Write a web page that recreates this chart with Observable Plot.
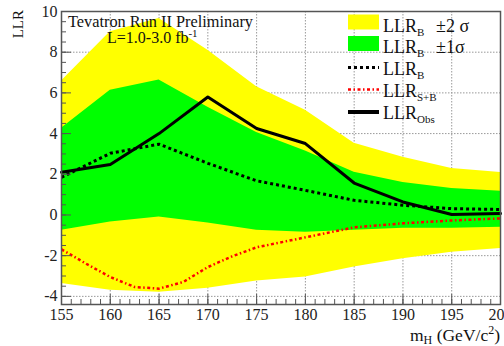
<!DOCTYPE html>
<html><head><meta charset="utf-8">
<script src="https://cdn.jsdelivr.net/npm/d3@7"></script>
<script src="https://cdn.jsdelivr.net/npm/@observablehq/plot@0.6"></script>
<style>
body{margin:0;background:#fff;}
#chart svg{display:block;}
#chart svg text{font-family:"Liberation Serif","Times New Roman",serif !important;}
</style></head><body><div id="chart"></div>
<script>
// ---- data ----
const mass     = [155, 160, 165, 170, 175, 180, 185, 190, 195, 200];
const llrObs   = [2.10, 2.48, 4.00, 5.80, 4.25, 3.51, 1.57, 0.64, 0.02, 0.07];
const llrB     = [1.85, 3.03, 3.48, 2.54, 1.68, 1.21, 0.72, 0.48, 0.31, 0.27];
const bPlus1   = [4.26, 6.13, 6.63, 5.30, 4.05, 3.15, 2.10, 1.60, 1.30, 1.17];
const bMinus1  = [-0.75, -0.35, -0.10, -0.40, -0.75, -0.85, -0.75, -0.65, -0.65, -0.60];
const bPlus2   = [6.58, 9.00, 9.66, 8.10, 6.30, 5.15, 3.52, 2.84, 2.29, 2.09];
const bMinus2  = [-3.37, -3.70, -3.80, -3.60, -3.25, -3.05, -2.56, -2.15, -1.83, -1.65];
const massSB   = [155, 157.5, 160, 162.5, 165, 167.5, 170, 172.5, 175, 180, 185, 190, 195, 200];
const llrSB    = [-1.69, -2.39, -3.05, -3.54, -3.62, -3.29, -2.56, -2.03, -1.59, -1.10, -0.61, -0.41, -0.27, -0.17];

const xTicks = [155, 160, 165, 170, 175, 180, 185, 190, 195, 200];
const xMinor = d3.range(155, 200.5, 1);
const yTicks = [-4, -2, 0, 2, 4, 6, 8, 10];
const yMinor = d3.range(-4, 10.01, 0.5);
const xGrid  = [160, 165, 170, 175, 180, 185, 190, 195];
const yGrid  = [-4, -2, 0, 2, 4, 6, 8];

const legendRows = [
  {label: "LLR", sub: "B", extra: "±2 σ", kind: "yellow"},
  {label: "LLR", sub: "B", extra: "±1σ", kind: "green"},
  {label: "LLR", sub: "B", extra: "", kind: "dotB"},
  {label: "LLR", sub: "S+B", extra: "", kind: "dotSB"},
  {label: "LLR", sub: "Obs", extra: "", kind: "solid"}
];

// ---- tables built from arrays ----
const bands = mass.map((m, i) => ({m, lo2: bMinus2[i], hi2: bPlus2[i], lo1: bMinus1[i], hi1: bPlus1[i], b: llrB[i], obs: llrObs[i]}));
const sb = massSB.map((m, i) => ({m, v: llrSB[i]}));

const W = 504, H = 346, mL = 61, mR = 4, mT = 11, mB = 42;
const innerW = W - mL - mR, innerH = H - mT - mB;
const axisColor = "#555";
const FONT = "'Liberation Serif', 'Times New Roman', serif";
const dotB = "3,3", dotSB = "3,2.5,1.5,2.5";

const plot = Plot.plot({
  width: W, height: H,
  marginLeft: mL, marginRight: mR, marginTop: mT, marginBottom: mB,
  style: {fontFamily: FONT, background: "white"},
  x: {domain: [155, 200]},
  y: {domain: [-4.4, 10]},
  marks: [
    Plot.ruleX(xGrid, {x: d => d, stroke: "#999", strokeDasharray: "1.5,1.5"}),
    Plot.ruleY(yGrid, {y: d => d, stroke: "#999", strokeDasharray: "1.5,1.5"}),
    Plot.areaY(bands, {x: "m", y1: "lo2", y2: "hi2", fill: "#ffff00"}),
    Plot.areaY(bands, {x: "m", y1: "lo1", y2: "hi1", fill: "#00ff00"}),
    Plot.line(bands, {x: "m", y: "b", stroke: "black", strokeWidth: 3, strokeDasharray: dotB, strokeLinecap: "butt"}),
    Plot.line(sb, {x: "m", y: "v", stroke: "#ff0000", strokeWidth: 2.5, strokeDasharray: dotSB, strokeLinecap: "butt"}),
    Plot.line(bands, {x: "m", y: "obs", stroke: "black", strokeWidth: 3}),
    Plot.tickX(xMinor, {x: d => d, stroke: axisColor, insetTop: innerH - 5}),
    Plot.tickX(xTicks, {x: d => d, stroke: axisColor, insetTop: innerH - 10}),
    Plot.tickY(yMinor, {y: d => d, stroke: axisColor, insetRight: innerW - 5}),
    Plot.tickY(yTicks, {y: d => d, stroke: axisColor, insetRight: innerW - 10}),
    Plot.axisX(xTicks, {tickSize: 0, tickPadding: 4, fontSize: 16, tickFormat: d => String(d), label: null, fill: "#222"}),
    Plot.axisY(yTicks, {tickSize: 0, tickPadding: 4, fontSize: 16, tickFormat: d => String(d), label: null, fill: "#222"}),
    Plot.frame({stroke: axisColor, strokeWidth: 1.5})
  ]
});

document.getElementById("chart").appendChild(plot);

// ---- annotations, legend (text with sub/superscripts) ----
const svg = d3.select(plot);
const ann = svg.append("g").style("font-family", FONT).attr("fill", "#111");

function richText(x, y, size, parts, anchor) {
  const t = ann.append("text").attr("x", x).attr("y", y).attr("font-size", size).attr("text-anchor", anchor || "start");
  let shift = 0;
  parts.forEach(p => {
    const ts = t.append("tspan").text(p.t);
    const target = p.dy || 0;
    ts.attr("dy", target - shift);
    shift = target;
    if (p.size) ts.attr("font-size", p.size);
  });
  return t;
}

// title
richText(68, 27, 17, [{t: "Tevatron Run II Preliminary"}])
  .attr("textLength", 185).attr("lengthAdjust", "spacingAndGlyphs");
richText(107, 43, 16, [{t: "L=1.0-3.0 fb"}, {t: "-1", size: 11, dy: -6}]);

// y axis label
ann.append("text").attr("transform", "translate(23,10) rotate(-90)")
  .attr("text-anchor", "end").attr("font-size", 15).text("LLR");

// x axis label
richText(500, 341, 17.5, [
  {t: "m"}, {t: "H", size: 12, dy: 3}, {t: " (GeV/c", dy: 0}, {t: "2", size: 12, dy: -7}, {t: ")", dy: 0}
], "end");

// legend
const baselines = [31.5, 53, 74.5, 96.5, 119];
legendRows.forEach((r, i) => {
  const yb = baselines[i];
  if (r.kind === "yellow" || r.kind === "green") {
    ann.append("rect").attr("x", 348).attr("y", yb - 17).attr("width", 31).attr("height", 15)
      .attr("fill", r.kind === "yellow" ? "#ffff00" : "#00ff00");
  } else {
    const ln = ann.append("line").attr("x1", 348).attr("x2", 379).attr("y1", yb - 7).attr("y2", yb - 7)
      .attr("stroke-linecap", "butt");
    if (r.kind === "dotB") ln.attr("stroke", "black").attr("stroke-width", 3).attr("stroke-dasharray", dotB);
    if (r.kind === "dotSB") ln.attr("stroke", "#ff0000").attr("stroke-width", 2.5).attr("stroke-dasharray", dotSB);
    if (r.kind === "solid") ln.attr("stroke", "black").attr("stroke-width", 4);
  }
  richText(383, yb, 18, [{t: r.label}, {t: r.sub, size: 11, dy: 4}]);
  if (r.extra) richText(436, yb, 18, [{t: r.extra}]);
});
</script>
</body></html>
